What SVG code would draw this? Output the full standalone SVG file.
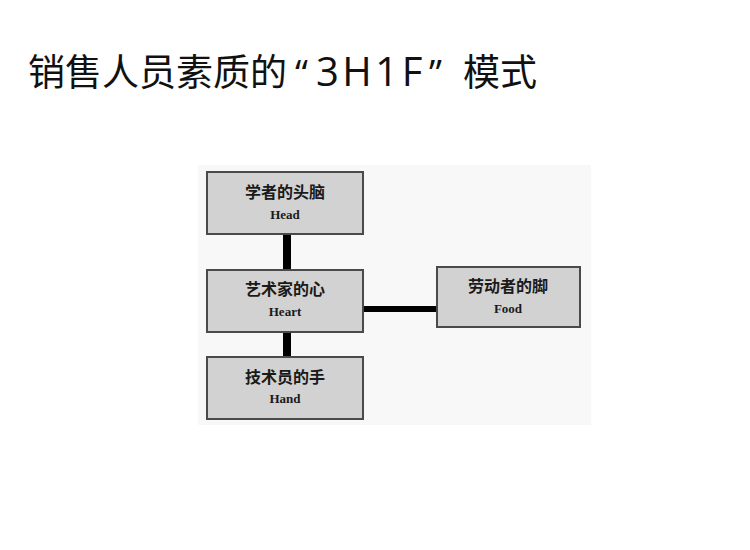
<svg xmlns="http://www.w3.org/2000/svg" width="750" height="550" viewBox="0 0 750 550">
<style>
.box{fill:#d2d2d2;stroke:#4a4a4a;stroke-width:2}
.cn{font-family:"Noto Sans CJK SC",sans-serif;font-size:16px;fill:#1a1a1a;text-anchor:middle;font-weight:bold}
.en{font-family:"Liberation Serif",serif;font-size:13px;font-weight:bold;fill:#1a1a1a;text-anchor:middle}
.con{stroke:#000;fill:none}
.lat{font-family:"Open Sans","Noto Sans",sans-serif}
</style>
<rect width="750" height="550" fill="#fff"/>
<rect x="198" y="165" width="393" height="260" fill="#f8f8f8"/>
<text y="86" font-family="'Noto Sans CJK SC',sans-serif" font-size="37" fill="#111"><tspan x="28">销售人员素质的</tspan><tspan class="lat" x="295">“</tspan><tspan class="lat" x="316" font-size="40" letter-spacing="3.5">3H1F</tspan><tspan class="lat" x="429">”</tspan><tspan x="463">模式</tspan></text>
<g id="connectors">
<line class="con" x1="287" y1="234" x2="287" y2="270" stroke-width="8"/>
<line class="con" x1="287" y1="332" x2="287" y2="357" stroke-width="8"/>
<line class="con" x1="363" y1="309" x2="437" y2="309" stroke-width="6"/>
</g>
<g id="head">
<rect class="box" x="207" y="172" width="156" height="62"/>
<text class="cn" x="285" y="198">学者的头脑</text>
<text class="en" x="285" y="219">Head</text>
</g>
<g id="heart">
<rect class="box" x="207" y="270" width="156" height="62"/>
<text class="cn" x="285" y="295">艺术家的心</text>
<text class="en" x="285" y="316">Heart</text>
</g>
<g id="hand">
<rect class="box" x="207" y="357" width="156" height="62"/>
<text class="cn" x="285" y="383">技术员的手</text>
<text class="en" x="285" y="403">Hand</text>
</g>
<g id="food">
<rect class="box" x="437" y="267" width="143" height="60"/>
<text class="cn" x="508" y="292">劳动者的脚</text>
<text class="en" x="508" y="313">Food</text>
</g>
</svg>
